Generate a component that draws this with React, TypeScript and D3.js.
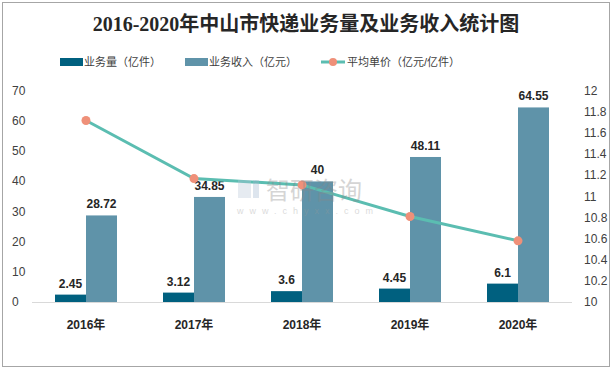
import React from 'react';
import * as d3 from 'd3';

const years = ['2016年', '2017年', '2018年', '2019年', '2020年'];
const volume = [2.45, 3.12, 3.6, 4.45, 6.1];
const revenue = [28.72, 34.85, 40, 48.11, 64.55];
const unitPrice = [11.72, 11.17, 11.11, 10.81, 10.58];
const leftTicks = [0, 10, 20, 30, 40, 50, 60, 70];
const rightTicks = [10, 10.2, 10.4, 10.6, 10.8, 11, 11.2, 11.4, 11.6, 11.8, 12];

const W = 612;
const H = 369;
const margin = { top: 91, right: 40, bottom: 67, left: 32 };

const darkBar = '#00607f';
const lightBar = '#5f93a9';
const lineColor = '#5bbdb1';
const dotColor = '#ef9079';
const font = '"Liberation Sans", "Noto Sans CJK SC", sans-serif';

export default function App() {
  const innerW = W - margin.left - margin.right;
  const x = d3.scaleBand().domain(years).range([margin.left, margin.left + innerW]);
  const yL = d3.scaleLinear().domain([0, 70]).range([H - margin.bottom, margin.top]);
  const yR = d3.scaleLinear().domain([10, 12]).range([H - margin.bottom, margin.top]);
  const barW = 31;

  const line = d3.line<number>()
    .x((_, i) => x(years[i])! + x.bandwidth() / 2)
    .y(d => yR(d));

  return (
    <svg width={W} height={H} style={{ position: 'absolute', left: 0, top: 0 }}>
      <rect x={0} y={0} width={W} height={H} fill="#fff" />
      <rect x={2.5} y={2.5} width={W - 5} height={H - 5} fill="none" stroke="#a6a6a6" />
      <text x={306} y={31} textAnchor="middle" fontSize={20} fontWeight="bold"
        fill="#262626" fontFamily='"Liberation Serif", "Noto Sans CJK SC", serif'>
        2016-2020年中山市快递业务量及业务收入统计图
      </text>

      {/* legend */}
      <g fontFamily={font} fontSize={11} fill="#404040">
        <rect x={60} y={58} width={23} height={8} fill={darkBar} />
        <text x={84} y={66}>业务量（亿件）</text>
        <rect x={185} y={58} width={23} height={8} fill={lightBar} />
        <text x={209} y={66}>业务收入（亿元）</text>
        <line x1={321} x2={345} y1={62} y2={62} stroke={lineColor} strokeWidth={3} />
        <circle cx={333} cy={62} r={4} fill={dotColor} />
        <text x={347} y={66}>平均单价（亿元/亿件）</text>
      </g>

      {/* axis labels */}
      <g fontFamily={font} fontSize={12} fill="#404040">
        {leftTicks.map(t => (
          <text key={t} x={12} y={yL(t) + 4}>{t}</text>
        ))}
        {rightTicks.map(t => (
          <text key={t} x={584} y={yR(t) + 4}>{t}</text>
        ))}
      </g>

      <line x1={margin.left} x2={margin.left + innerW} y1={yL(0) + 0.5} y2={yL(0) + 0.5}
        stroke="#d9d9d9" />

      {/* bars */}
      {years.map((yr, i) => {
        const cx = x(yr)! + x.bandwidth() / 2;
        return (
          <g key={yr} fontFamily={font} fontSize={12} fontWeight="bold" fill="#262626" textAnchor="middle">
            <rect x={cx - barW} y={yL(volume[i])} width={barW} height={yL(0) - yL(volume[i])} fill={darkBar} />
            <rect x={cx} y={yL(revenue[i])} width={barW} height={yL(0) - yL(revenue[i])} fill={lightBar} />
            <text x={cx - barW / 2} y={yL(volume[i]) - 7}>{volume[i]}</text>
            <text x={cx + barW / 2} y={yL(revenue[i]) - 7}>{revenue[i]}</text>
            <text x={cx} y={329}>{yr}</text>
          </g>
        );
      })}

      {/* line */}
      <path d={line(unitPrice)!} fill="none" stroke={lineColor} strokeWidth={3} />
      {unitPrice.map((v, i) => (
        <circle key={i} cx={x(years[i])! + x.bandwidth() / 2} cy={yR(v)} r={4.5} fill={dotColor} />
      ))}

      {/* watermark */}
      <g opacity={0.35} fontFamily={font}>
        <rect x={238} y={180} width={13} height={18} fill="#b8c8da" />
        <rect x={253} y={180} width={6} height={18} fill="#9fb7cf" />
        <text x={266} y={199} fontSize={24} fill="#888">智研咨询</text>
        <text x={237} y={214} fontSize={9} fill="#999" letterSpacing={6}>www.chyxx.com</text>
      </g>
    </svg>
  );
}
